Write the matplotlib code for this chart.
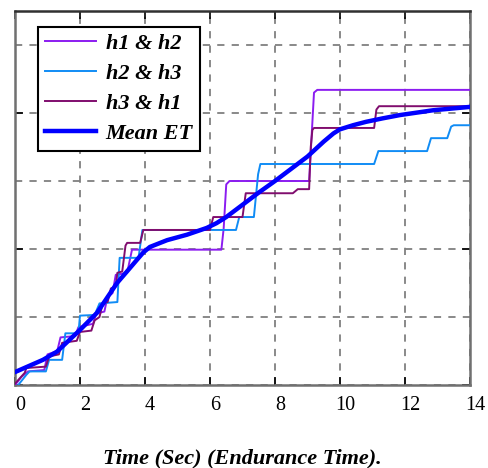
import matplotlib
matplotlib.use("Agg")
import matplotlib.pyplot as plt
import matplotlib.transforms as mtransforms

# ---- data ----
h12_x = [0.0, 0.2, 0.4, 0.9, 1.0, 1.3, 1.4, 1.85, 1.95, 2.4, 2.5, 2.75, 2.85, 3.0, 3.1, 3.45, 3.6,
         6.35, 6.42, 6.5, 6.6, 9.05, 9.12, 9.2, 9.3, 14.0]
h12_y = [0.0, 0.12, 0.2, 0.22, 0.45, 0.5, 0.7, 0.72, 0.85, 0.9, 1.05, 1.08, 1.3, 1.35, 1.62, 1.65, 1.99,
         1.99, 2.3, 2.95, 3.0, 3.0, 3.6, 4.3, 4.34, 4.34]

h23_x = [0.1, 0.35, 0.45, 0.95, 1.05, 1.45, 1.55, 1.95, 2.0, 2.45, 2.6, 3.15, 3.22, 3.8, 3.92,
         6.8, 6.9, 7.35, 7.48, 7.55, 11.05, 11.18, 12.68, 12.8, 13.3, 13.42, 13.5, 14.0]
h23_y = [0.0, 0.15, 0.2, 0.2, 0.37, 0.37, 0.76, 0.76, 1.02, 1.03, 1.2, 1.22, 1.87, 1.87, 2.28,
         2.28, 2.47, 2.47, 3.1, 3.25, 3.25, 3.44, 3.44, 3.63, 3.63, 3.8, 3.82, 3.82]

h31_x = [0.0, 0.15, 0.3, 0.35, 0.95, 1.05, 1.35, 1.45, 1.9, 2.0, 2.35, 2.45, 2.6, 2.7, 2.85, 2.95,
         3.1, 3.15, 3.3, 3.4, 3.45, 3.85, 3.95, 6.0, 6.1, 7.0, 7.1, 8.55, 8.7, 9.05, 9.1, 9.15,
         9.2, 11.05, 11.12, 11.2, 14.0]
h31_y = [0.02, 0.1, 0.18, 0.25, 0.27, 0.42, 0.45, 0.62, 0.65, 0.78, 0.8, 0.95, 1.0, 1.2, 1.22, 1.42,
         1.45, 1.65, 1.67, 2.05, 2.09, 2.09, 2.28, 2.28, 2.47, 2.47, 2.82, 2.82, 2.88, 2.88, 3.5, 3.75,
         3.78, 3.78, 4.05, 4.1, 4.1]

mean_x = [0.0, 0.86, 1.29, 2.0, 2.52, 3.14, 3.5, 3.75, 3.95, 4.15, 4.68, 5.29, 5.9, 6.2, 6.5,
          7.0, 7.5, 8.0, 8.5, 9.0, 9.5, 9.8, 10.0, 10.4, 10.8, 11.3, 11.85, 12.86, 14.0]
mean_y = [0.19, 0.37, 0.49, 0.81, 1.06, 1.5, 1.7, 1.84, 1.95, 2.03, 2.13, 2.21, 2.31, 2.38, 2.47,
          2.65, 2.83, 3.0, 3.18, 3.36, 3.58, 3.7, 3.76, 3.82, 3.87, 3.92, 3.97, 4.04, 4.09]

labels = ["h1 & h2", "h2 & h3", "h3 & h1", "Mean ET"]
x_ticks = [0, 2, 4, 6, 8, 10, 12, 14]
xlabel = "Time (Sec) (Endurance Time)."

# ---- figure ----
serif = ["Liberation Serif", "DejaVu Serif"]
fig = plt.figure(figsize=(4.88, 4.68), dpi=100)
ax = fig.add_axes([15 / 488, (468 - 385) / 468, (470 - 15) / 488, (385 - 11) / 468])

ax.plot(h12_x, h12_y, color="#8B1CF0", lw=1.4, label=labels[0], zorder=3)
ax.plot(h23_x, h23_y, color="#108CF5", lw=1.4, label=labels[1], zorder=3)
ax.plot(h31_x, h31_y, color="#800D6E", lw=1.4, label=labels[2], zorder=3)
ax.plot(mean_x, mean_y, color="#0000FF", lw=3.2, label=labels[3], zorder=4)

ax.set_xlim(0, 14)
ax.set_ylim(0, 5.5)
ax.set_xticks(x_ticks)
ax.set_xticklabels([str(t) for t in x_ticks], fontfamily=serif, fontsize=14.5)
ax.set_xticks([1, 3, 5, 7, 9, 11, 13], minor=True)
ax.set_yticks([0, 2, 4])
ax.set_yticks([1, 3, 5], minor=True)
ax.set_yticklabels([])
ax.tick_params(axis="both", which="major", direction="in", length=6, width=1.2,
               top=True, right=True, color="black", pad=8)
ax.tick_params(axis="both", which="minor", direction="in", length=0, top=True, right=True)

# shift tick labels slightly right like the reference
offset = mtransforms.ScaledTranslation(5 / 100, 0, fig.dpi_scale_trans)
for lbl in ax.get_xticklabels():
    lbl.set_transform(lbl.get_transform() + offset)

ax.grid(True, which="both", axis="y", color="#808080", linestyle=(0, (4, 4)), lw=1.3)
ax.grid(True, which="major", axis="x", color="#808080", linestyle=(0, (4, 4)), lw=1.3)
ax.set_axisbelow(True)

for s in ax.spines.values():
    s.set_color("#707070")
    s.set_linewidth(1.8)
ax.spines["top"].set_color("#303030")

ax.set_xlabel(xlabel, fontfamily=serif, fontsize=16, fontweight="bold", fontstyle="italic",
              labelpad=24)

leg = ax.legend(loc="upper left", bbox_to_anchor=(23 / 455, 1 - 16 / 374),
                prop={"family": serif, "size": 16, "weight": "bold", "style": "italic"},
                frameon=True, fancybox=False, framealpha=1, edgecolor="black",
                handlelength=2.3, handletextpad=0.45, labelspacing=0.42, borderpad=0.3,
                borderaxespad=0)
leg.get_frame().set_linewidth(1.5)

fig.savefig("out.png", dpi=100)
